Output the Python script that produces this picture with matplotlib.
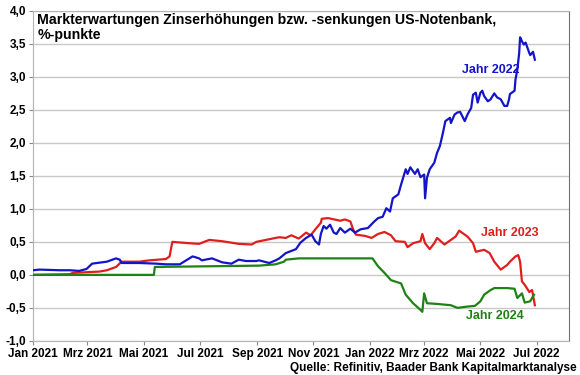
import pandas as pd
import matplotlib
matplotlib.use('Agg')
from matplotlib import pyplot as plt
from matplotlib.ticker import FuncFormatter, MultipleLocator

# Jahr 2022
DATES_22 = ['2021-01-01', '2021-01-08', '2021-01-30', '2021-02-10', '2021-02-20', '2021-02-28',
	'2021-03-06', '2021-03-22', '2021-04-01', '2021-04-05', '2021-04-07', '2021-04-26',
	'2021-05-15', '2021-05-25', '2021-06-09', '2021-06-16', '2021-06-23', '2021-06-30',
	'2021-07-03', '2021-07-14', '2021-07-25', '2021-08-04', '2021-08-12', '2021-08-20',
	'2021-08-31', '2021-09-03', '2021-09-14', '2021-09-21', '2021-09-25', '2021-10-02',
	'2021-10-13', '2021-10-18', '2021-10-24', '2021-10-30', '2021-11-03', '2021-11-07',
	'2021-11-09', '2021-11-12', '2021-11-15', '2021-11-19', '2021-11-23', '2021-11-26',
	'2021-11-30', '2021-12-05', '2021-12-11', '2021-12-16', '2021-12-22', '2021-12-30',
	'2022-01-06', '2022-01-10', '2022-01-15', '2022-01-19', '2022-01-23', '2022-01-26',
	'2022-02-01', '2022-02-04', '2022-02-09', '2022-02-11', '2022-02-14',
	'2022-02-19', '2022-02-22', '2022-02-25', '2022-03-01', '2022-03-02', '2022-03-04',
	'2022-03-07', '2022-03-12', '2022-03-15', '2022-03-18', '2022-03-21', '2022-03-24',
	'2022-03-29', '2022-03-30', '2022-04-03', '2022-04-06', '2022-04-09', '2022-04-14',
	'2022-04-17', '2022-04-21', '2022-04-23', '2022-04-26', '2022-04-28', '2022-05-01',
	'2022-05-03', '2022-05-05', '2022-05-09', '2022-05-12', '2022-05-16', '2022-05-19',
	'2022-05-23', '2022-05-27', '2022-05-30', '2022-06-01', '2022-06-02', '2022-06-07',
	'2022-06-08', '2022-06-10', '2022-06-12', '2022-06-13', '2022-06-15', '2022-06-17',
	'2022-06-19', '2022-06-23', '2022-06-24', '2022-06-27', '2022-06-29']
VALS_22 = [0.07, 0.08, 0.07, 0.07, 0.06, 0.09,
	0.17, 0.20, 0.25, 0.23, 0.18, 0.18,
	0.17, 0.16, 0.16, 0.22, 0.28, 0.25,
	0.22, 0.25, 0.19, 0.17, 0.23, 0.21,
	0.21, 0.22, 0.18, 0.22, 0.25, 0.33,
	0.39, 0.49, 0.56, 0.61, 0.51, 0.46,
	0.62, 0.74, 0.70, 0.76, 0.64, 0.62,
	0.71, 0.64, 0.70, 0.64, 0.69, 0.71,
	0.81, 0.86, 0.88, 1.01, 0.96, 1.16,
	1.22, 1.37, 1.60, 1.53, 1.63,
	1.53, 1.60, 1.48, 1.52, 1.16, 1.47,
	1.60, 1.70, 1.85, 1.95, 2.13, 2.33,
	2.38, 2.30, 2.43, 2.46, 2.47, 2.33,
	2.43, 2.53, 2.73, 2.76, 2.61, 2.76,
	2.79, 2.71, 2.63, 2.66, 2.75, 2.69,
	2.66, 2.56, 2.56, 2.66, 2.74, 2.79,
	2.96, 3.11, 3.36, 3.60, 3.54, 3.49,
	3.52, 3.36, 3.33, 3.38, 3.26]

# Jahr 2023
DATES_23 = ['2021-01-01', '2021-02-10', '2021-02-13', '2021-03-14', '2021-03-22', '2021-04-01',
	'2021-04-07', '2021-04-26', '2021-05-07', '2021-05-25', '2021-05-29', '2021-06-01',
	'2021-06-19', '2021-06-30', '2021-07-11', '2021-07-25', '2021-08-12', '2021-08-26',
	'2021-08-31', '2021-09-21', '2021-09-25', '2021-10-02', '2021-10-08', '2021-10-16',
	'2021-10-24', '2021-10-29', '2021-11-03', '2021-11-09', '2021-11-10', '2021-11-17',
	'2021-11-30', '2021-12-05', '2021-12-11', '2021-12-14', '2021-12-17', '2021-12-27',
	'2022-01-03', '2022-01-10', '2022-01-17', '2022-01-24', '2022-01-29', '2022-02-08',
	'2022-02-11', '2022-02-17', '2022-02-25', '2022-02-27', '2022-03-02', '2022-03-07',
	'2022-03-12', '2022-03-15', '2022-03-23', '2022-03-30', '2022-04-04', '2022-04-08',
	'2022-04-12', '2022-04-17', '2022-04-23', '2022-04-26', '2022-05-05', '2022-05-11',
	'2022-05-16', '2022-05-23', '2022-05-30', '2022-06-02', '2022-06-08', '2022-06-11',
	'2022-06-13', '2022-06-15', '2022-06-18', '2022-06-23', '2022-06-26', '2022-06-29']
VALS_23 = [0.00, 0.01, 0.03, 0.05, 0.07, 0.12,
	0.20, 0.20, 0.22, 0.24, 0.28, 0.50,
	0.48, 0.47, 0.53, 0.51, 0.47, 0.46,
	0.50, 0.56, 0.57, 0.56, 0.60, 0.55,
	0.64, 0.60, 0.69, 0.79, 0.85, 0.86,
	0.82, 0.84, 0.81, 0.69, 0.61, 0.59,
	0.56, 0.62, 0.65, 0.60, 0.51, 0.50,
	0.42, 0.48, 0.51, 0.62, 0.48, 0.39,
	0.48, 0.56, 0.46, 0.53, 0.58, 0.67,
	0.63, 0.58, 0.48, 0.35, 0.38, 0.33,
	0.20, 0.08, 0.15, 0.20, 0.28, 0.30,
	0.20, -0.10, -0.15, -0.26, -0.23, -0.46]

# Jahr 2024
DATES_24 = ['2021-01-01', '2021-05-12', '2021-05-13', '2021-09-03', '2021-09-21', '2021-09-30',
	'2021-10-02', '2021-10-16', '2022-01-04', '2022-01-10', '2022-01-17', '2022-01-24',
	'2022-02-04', '2022-02-09', '2022-02-17', '2022-02-25', '2022-02-27', '2022-03-01',
	'2022-03-04', '2022-03-15', '2022-03-30', '2022-04-06', '2022-04-17', '2022-04-25',
	'2022-05-01', '2022-05-05', '2022-05-12', '2022-05-16', '2022-05-30', '2022-06-07',
	'2022-06-10', '2022-06-15', '2022-06-18', '2022-06-24', '2022-06-28']
VALS_24 = [0.00, 0.00, 0.12, 0.14, 0.16, 0.20,
	0.23, 0.25, 0.25, 0.13, 0.03, -0.08,
	-0.13, -0.30, -0.43, -0.53, -0.56, -0.28,
	-0.43, -0.44, -0.46, -0.50, -0.48, -0.47,
	-0.40, -0.30, -0.23, -0.20, -0.20, -0.21,
	-0.35, -0.28, -0.42, -0.40, -0.30]

TICK_DATES = ['2021-01-01', '2021-03-01', '2021-05-01', '2021-07-01', '2021-09-01', '2021-11-01',
	'2022-01-01', '2022-03-01', '2022-05-01', '2022-07-01']
TICK_LABELS = ['Jan 2021', 'Mrz 2021', 'Mai 2021', 'Jul 2021', 'Sep 2021', 'Nov 2021',
	'Jan 2022', 'Mrz 2022', 'Mai 2022', 'Jul 2022']

BLUE = '#1414c8'
RED = '#e01e1e'
GREEN = '#1e8214'


def main():
	plt.rcParams['font.family'] = ['Liberation Sans', 'DejaVu Sans']
	plt.rcParams['font.weight'] = 'bold'

	fig = plt.figure(figsize=(5.8, 3.75), dpi=100)
	ax = fig.add_axes([0.057, 0.091, 0.924, 0.88])

	ax.plot(pd.to_datetime(DATES_23), VALS_23, color=RED, lw=1.6, zorder=3)
	ax.plot(pd.to_datetime(DATES_24), VALS_24, color=GREEN, lw=1.6, zorder=4)
	ax.plot(pd.to_datetime(DATES_22), VALS_22, color=BLUE, lw=1.6, zorder=5)

	ax.set_xlim(pd.Timestamp('2021-01-01'), pd.Timestamp('2022-08-05'))
	ax.set_ylim(-1.0, 4.0)
	ax.yaxis.set_major_locator(MultipleLocator(0.5))
	ax.yaxis.set_major_formatter(FuncFormatter(lambda v, p: '{:.1f}'.format(v).replace('.', ',')))
	ax.set_xticks(pd.to_datetime(TICK_DATES))
	ax.set_xticklabels(TICK_LABELS)
	ax.tick_params(labelsize=8.5, length=3, color='#888888', pad=2)
	ax.grid(axis='y', color='#c8c8c8', lw=1)
	ax.set_axisbelow(True)
	for side in ['left', 'bottom', 'top']:
		ax.spines[side].set_color('#b4b4b4')
	ax.spines['right'].set_color('#707070')

	ax.text(0.008, 0.993, 'Markterwartungen Zinserhöhungen bzw. -senkungen US-Notenbank,\n%-punkte',
		transform=ax.transAxes, ha='left', va='top', fontsize=10.2, fontweight='bold',
		linespacing=1.05, zorder=6)

	ax.text(pd.Timestamp('2022-05-12'), 3.1, 'Jahr 2022', color=BLUE, fontsize=9,
		fontweight='bold', ha='center', va='center')
	ax.text(pd.Timestamp('2022-06-02'), 0.63, 'Jahr 2023', color=RED, fontsize=9,
		fontweight='bold', ha='center', va='center')
	ax.text(pd.Timestamp('2022-05-17'), -0.63, 'Jahr 2024', color=GREEN, fontsize=9,
		fontweight='bold', ha='center', va='center')

	fig.text(0.995, 0.004, 'Quelle: Refinitiv, Baader Bank Kapitalmarktanalyse',
		ha='right', va='bottom', fontsize=8.5, fontweight='bold')

	fig.savefig('out.png', dpi=100)


if __name__ == "__main__":
	main()
